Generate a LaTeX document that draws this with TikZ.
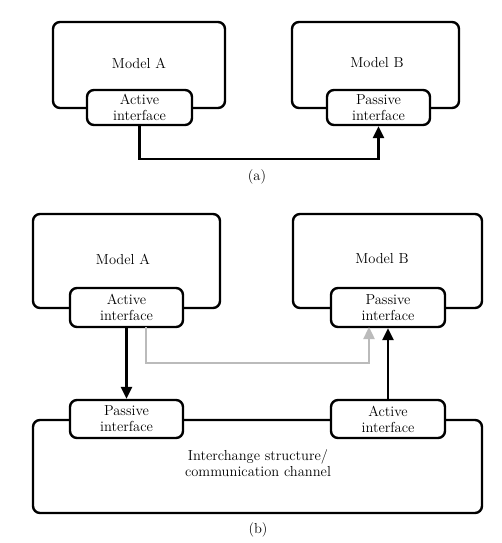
\documentclass[tikz,border=0pt]{standalone}
\usetikzlibrary{arrows.meta}
\definecolor{lightgray}{RGB}{187,187,187}
\tikzset{
  modelbox/.style={draw=black, line width=2.4pt, rounded corners=7pt, fill=white, inner sep=0pt},
  ifbox/.style={draw=black, line width=2.4pt, rounded corners=7pt, fill=white, inner sep=0pt,
    minimum height=37pt, align=center, font=\fontsize{14.5}{16}\selectfont},
  lbl/.style={font=\fontsize{14.5}{16}\selectfont, inner sep=0pt, align=center},
  conn/.style={line width=2.4pt, -{Triangle[width=11pt,length=12pt]}, line join=miter},
  connplain/.style={line width=2.4pt},
  grayconn/.style={line width=2.4pt, draw=lightgray, -{Triangle[width=11pt,length=12pt]}}
}
\begin{document}
\begin{tikzpicture}[x=1pt,y=-1pt]
\useasboundingbox (0,0) rectangle (501,543);
% ---------- (a) ----------
\node[modelbox, minimum width=172pt, minimum height=86pt] (mA) at (139,65) {};
\node[lbl] (mAt) at (139,63) {Model A};
\node[ifbox, minimum width=105pt, minimum height=35pt] (aiA) at (139.5,107.5) {Active\\interface};
\node[modelbox, minimum width=167pt, minimum height=86pt] (mB) at (375.5,65) {};
\node[lbl] (mBt) at (377,63) {Model B};
\node[ifbox, minimum width=103pt, minimum height=35pt] (piB) at (378.5,107.5) {Passive\\interface};
\coordinate (c1) at (139.5,159);
\coordinate (c2) at (378.5,159);
\draw[conn] (aiA.south) -- (c1) -- (c2) -- (piB.south);
\node[lbl] (la) at (257,177) {(a)};
% ---------- (b) ----------
\node[modelbox, minimum width=187pt, minimum height=94pt] (bmA) at (126.5,261) {};
\node[lbl] (bmAt) at (123,259) {Model A};
\node[modelbox, minimum width=189pt, minimum height=94pt] (bmB) at (387.5,261) {};
\node[lbl] (bmBt) at (382,259) {Model B};
\node[modelbox, minimum width=449pt, minimum height=93pt] (ch) at (257.5,466.5) {};
\node[lbl] (cht) at (258,463) {Interchange structure/\\communication channel};
\node[ifbox, minimum width=113pt, minimum height=39pt] (baiA) at (126.5,307.5) {Active\\interface};
\node[ifbox, minimum width=114pt, minimum height=39pt] (bpiB) at (388,307.5) {Passive\\interface};
\node[ifbox, minimum width=113pt, minimum height=38pt] (bpiC) at (126.5,419) {Passive\\interface};
\node[ifbox, minimum width=114pt, minimum height=38pt] (baiC) at (388,419) {Active\\interface};
\coordinate (g0) at (146,327);
\coordinate (g1) at (146,363);
\coordinate (g2) at (369,363);
\coordinate (g3) at (369,327);
\draw[grayconn] (g0) -- (g1) -- (g2) -- (g3);
\draw[conn] (baiA.south) -- (bpiC.north);
\draw[conn] (baiC.north) -- (bpiB.south);
\node[lbl] (lb) at (258,530) {(b)};
\end{tikzpicture}
\end{document}
